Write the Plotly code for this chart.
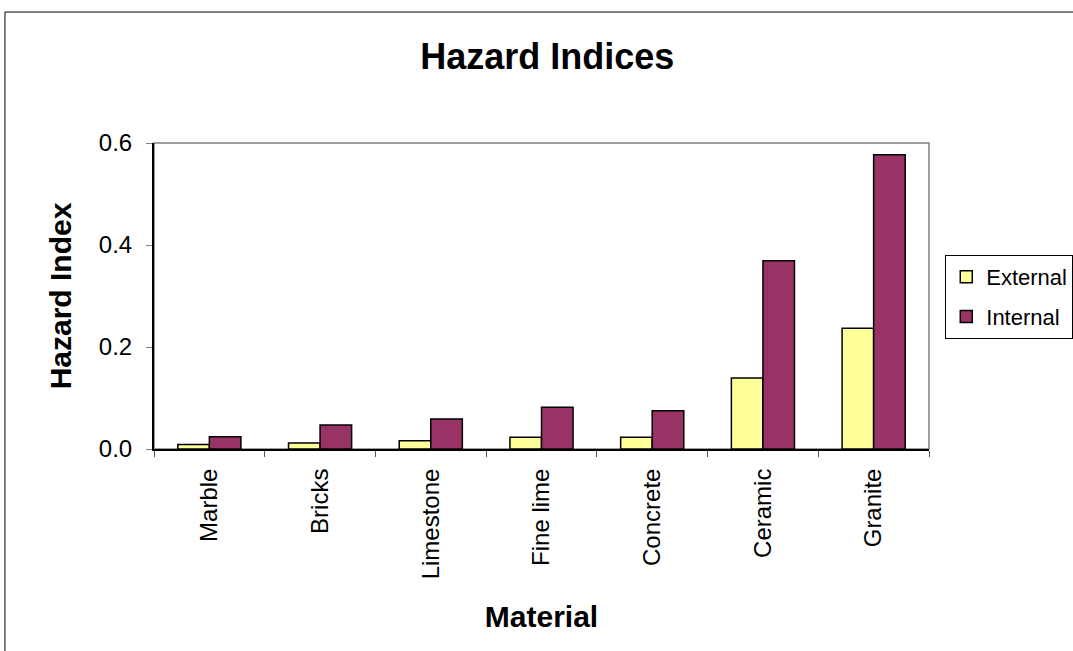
import plotly.graph_objects as go

# Values
materials = ["Marble", "Bricks", "Limestone", "Fine lime", "Concrete", "Ceramic", "Granite"]
external = [0.009, 0.012, 0.016, 0.023, 0.023, 0.139, 0.237]
internal = [0.024, 0.047, 0.059, 0.082, 0.075, 0.369, 0.577]

FONT = "Liberation Sans, Arial, sans-serif"

fig = go.Figure()
fig.add_trace(go.Bar(
    x=materials, y=external, name="External", legendgroup="ext",
    marker=dict(color="#FFFF99", line=dict(color="black", width=1.5)),
))
fig.add_trace(go.Bar(
    x=materials, y=internal, name="Internal", legendgroup="int",
    marker=dict(color="#993366", line=dict(color="black", width=1.5)),
))

# plot-area border and outer chart frame
fig.add_shape(type="rect", xref="paper", yref="paper", x0=0, x1=1, y0=0, y1=1,
              line=dict(color="#808080", width=1.5), layer="below")
fig.add_shape(type="rect", xref="paper", yref="paper",
              x0=-0.1923, x1=1.2, y0=-0.7, y1=1.428,
              line=dict(color="black", width=1))

fig.update_layout(
    width=1073, height=651,
    margin=dict(l=154, r=144, t=143, b=202, autoexpand=False),
    paper_bgcolor="white", plot_bgcolor="white",
    font=dict(family=FONT, size=24, color="black"),
    title=dict(text="<b>Hazard Indices</b>", x=0.51, xanchor="center",
               yref="container", y=0.913, yanchor="middle", font=dict(size=36)),
    barmode="group", bargap=0.43, bargroupgap=0,
    showlegend=True,
    legend=dict(x=1.021, y=0.634, xanchor="left", yanchor="top",
                bordercolor="black", borderwidth=1, bgcolor="white",
                font=dict(size=22), tracegroupgap=8, itemwidth=30),
)
fig.update_xaxes(
    title=dict(text="<b>Material</b>", font=dict(size=30), standoff=28),
    tickangle=-90, ticks="outside", tickson="boundaries", ticklen=6,
    tickcolor="#555555", showline=True, linecolor="black", linewidth=2,
    showgrid=False, ticklabelstandoff=8,
)
fig.update_yaxes(
    title=dict(text="<b>Hazard Index</b>", font=dict(size=30), standoff=18),
    range=[0, 0.6], dtick=0.2, tickformat=".1f",
    ticks="outside", ticklen=6, tickcolor="#808080",
    showline=True, linecolor="black", linewidth=2,
    showgrid=False, zeroline=False, ticklabelstandoff=9,
)

fig.write_html("out.html", config={"displayModeBar": False},
               post_script="document.body.style.margin='0px';")
